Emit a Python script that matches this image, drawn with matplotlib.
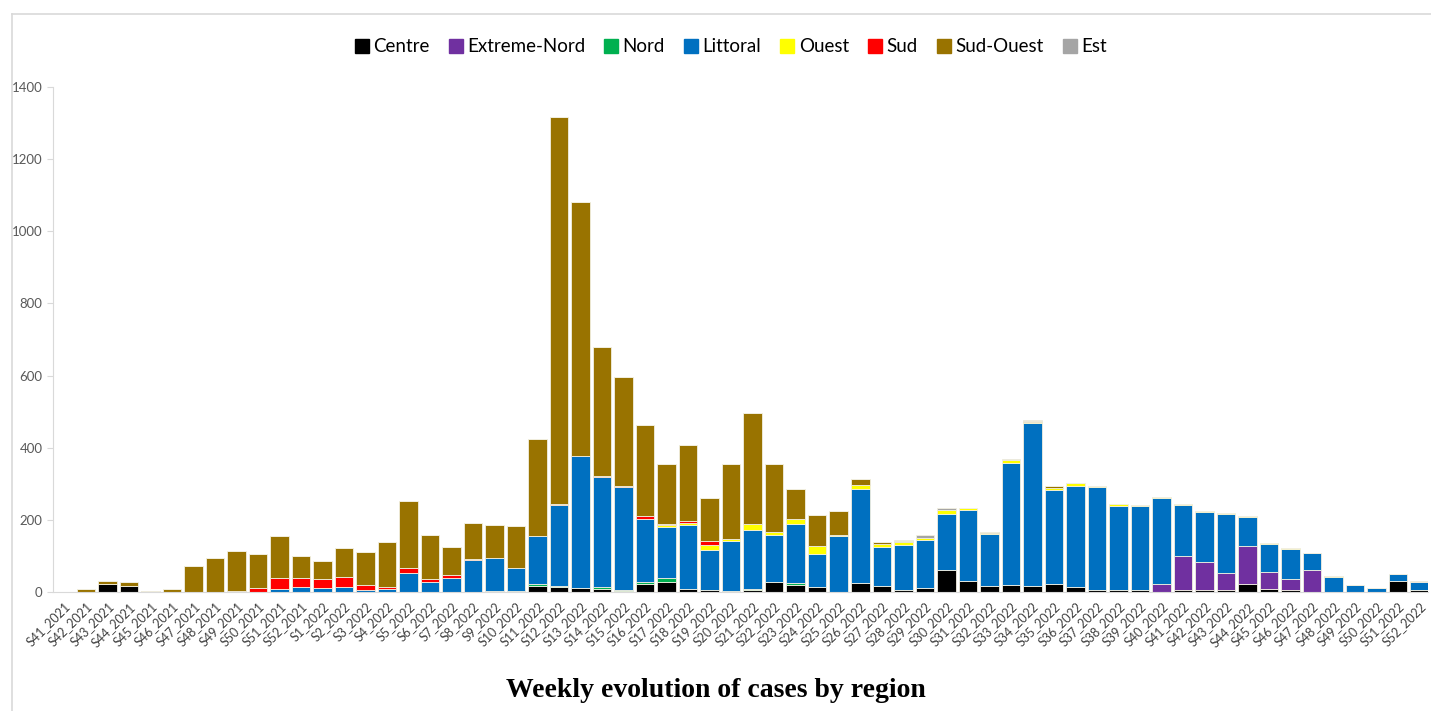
import matplotlib
matplotlib.use('Agg')
import matplotlib.pyplot as plt
from matplotlib.lines import Line2D
import numpy as np

weeks = ['S%d_2021' % w for w in range(41, 53)] + ['S%d_2022' % w for w in range(1, 53)]

# cases per region, one value per week (S41_2021 ... S52_2022)
centre = [0, 0, 23, 17, 0, 0, 0, 0, 0, 0, 0, 0,
          0, 0, 0, 0, 0, 0, 0, 0, 3, 0, 17, 13, 11, 7, 3, 22, 29, 7, 5, 0,
          6, 27, 19, 13, 1, 25, 17, 6, 11, 62, 30, 17, 20, 17, 23, 14, 6, 6,
          6, 0, 6, 5, 5, 21, 9, 6, 0, 0, 0, 0, 30, 6]
extreme_nord = [0] * 12 + [0] * 39 + [22, 93, 77, 47, 106, 46, 30, 61, 0, 0, 0, 0, 0]
nord = [0] * 12 + [0, 0, 0, 0, 0, 0, 0, 0, 0, 2, 5, 3, 0, 7, 2, 5, 9, 2, 0, 3,
                   2, 0, 5, 0, 0, 0, 0, 0, 0, 0, 0, 0, 0, 0, 0, 0, 0, 0, 0, 0,
                   0, 0, 0, 0, 0, 0, 0, 0, 0, 0, 0, 0]
littoral = [0, 0, 0, 0, 0, 0, 0, 0, 0, 0, 8, 13,
            11, 13, 5, 8, 52, 27, 38, 88, 90, 64, 133, 224, 365, 304, 285, 174,
            143, 178, 111, 139, 165, 130, 165, 91, 153, 261, 109, 124, 132, 155,
            197, 144, 337, 451, 261, 280, 285, 232, 232, 239, 143, 141, 164, 81,
            79, 82, 46, 42, 20, 11, 19, 23]
ouest = [0] * 12 + [0, 0, 0, 0, 0, 0, 0, 0, 0, 0, 0, 0, 0, 0, 2, 0, 4, 5, 13, 6,
                    15, 10, 14, 24, 3, 10, 8, 9, 7, 10, 6, 2, 9, 2, 5, 9, 2, 6,
                    2, 2, 2, 2, 2, 2, 2, 4, 2, 2, 0, 0, 0, 0]
sud = [0, 0, 0, 0, 0, 0, 0, 0, 4, 11, 30, 25,
       25, 29, 14, 5, 15, 8, 9, 3, 0, 0, 0, 3, 0, 3, 3, 9, 3, 4, 11, 0,
       0, 0, 0, 0, 0, 0, 0, 0, 0, 0, 0, 0, 0, 0, 0, 0, 0, 0, 0, 0,
       0, 0, 0, 0, 0, 0, 0, 0, 0, 0, 0, 0]
sud_ouest = [0, 9, 7, 10, 4, 7, 71, 93, 109, 94, 117, 61,
             51, 79, 91, 126, 185, 123, 79, 101, 93, 117, 269, 1074, 705, 358,
             301, 253, 167, 211, 120, 207, 307, 188, 83, 85, 67, 16, 5, 3, 0,
             0, 0, 3, 0, 4, 4, 0, 0, 0, 0, 0, 0, 0, 0, 0, 0, 0, 0, 0, 0, 0, 0, 0]
est = [0] * 12 + [0] * 27 + [2, 8, 5, 0, 0, 3, 2] + [0] * 16 + [2, 1]

names = ['Centre', 'Extreme-Nord', 'Nord', 'Littoral', 'Ouest', 'Sud', 'Sud-Ouest', 'Est']
series = [centre, extreme_nord, nord, littoral, ouest, sud, sud_ouest, est]
colors = ['#000000', '#7030A0', '#00B050', '#0070C0', '#FFFF00', '#FF0000', '#997300', '#A5A5A5']

fig = plt.figure(figsize=(14.31, 7.11), dpi=100)
ax = fig.add_axes([0.037, 0.1674, 0.961, 0.7102])

x = np.arange(len(weeks))
bottom = np.zeros(len(weeks))
for name, vals, c in zip(names, series, colors):
    vals = np.array(vals, dtype=float)
    ax.bar(x, vals, 0.86, bottom=bottom, color=c, edgecolor='#f2efe0', linewidth=0.6, label=name)
    bottom += vals

ax.set_ylim(0, 1400)
ax.set_xlim(-0.53, 63.4)
ax.set_yticks(range(0, 1401, 200))
ax.set_xticks(x)
ax.set_xticklabels(weeks, rotation=45, ha='right', rotation_mode='anchor',
                   fontsize=9, color='#404040', family=['Lato', 'DejaVu Sans'])
for lab in ax.get_yticklabels():
    lab.set_family(['Lato', 'DejaVu Sans'])
ax.tick_params(axis='y', labelsize=9.5, labelcolor='#595959', color='#d9d9d9', length=4)
ax.tick_params(axis='x', length=0, pad=6)

for s in ['top', 'right']:
    ax.spines[s].set_visible(False)
ax.spines['left'].set_color('#d9d9d9')
ax.spines['bottom'].set_color('#d9d9d9')

handles = [Line2D([], [], marker='s', linestyle='none', markersize=10,
                  markerfacecolor=c, markeredgecolor=c) for c in colors]
fig.legend(handles, names, loc='center', bbox_to_anchor=(0.509, 0.934), ncol=8,
           frameon=False, handletextpad=0.0, handlelength=1.2, columnspacing=0.8,
           prop={'family': ['Lato', 'DejaVu Sans'], 'size': 13.5})

fig.text(0.5, 0.029, 'Weekly evolution of cases by region', ha='center', va='center',
         fontsize=20, fontweight='bold', family=['Liberation Serif', 'DejaVu Serif'])

# outer chart frame
fig.add_artist(Line2D([0.0084, 0.0084], [0.0, 0.980], color='#d9d9d9', linewidth=1.2))
fig.add_artist(Line2D([0.0084, 1.0], [0.980, 0.980], color='#d9d9d9', linewidth=1.2))

fig.savefig('out.png', dpi=100)
